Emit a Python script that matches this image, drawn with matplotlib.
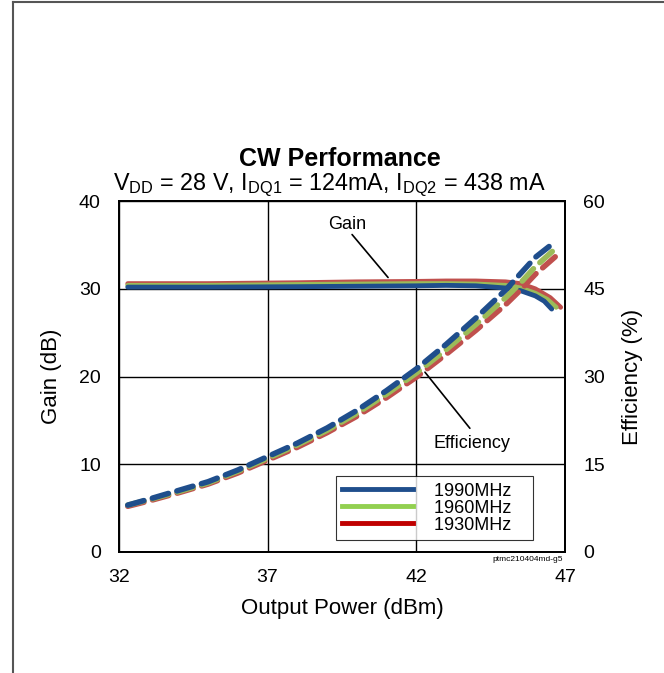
import matplotlib.pyplot as plt
from matplotlib.lines import Line2D

plt.rcParams['font.family'] = ['Liberation Sans', 'DejaVu Sans']

# Gain (dB) vs output power (dBm)
pout_g_1990 = [32.3, 35, 38, 40, 42, 43, 44, 45, 45.5, 46, 46.3, 46.55]
gain_1990 = [30.2, 30.2, 30.25, 30.3, 30.35, 30.4, 30.35, 30.1, 29.8, 29.2, 28.6, 27.7]
pout_g_1960 = [32.3, 35, 38, 40, 42, 43, 44, 45, 45.5, 46, 46.4, 46.7]
gain_1960 = [30.4, 30.4, 30.5, 30.55, 30.6, 30.6, 30.55, 30.4, 30.1, 29.5, 28.8, 27.9]
pout_g_1930 = [32.3, 35, 38, 40, 42, 43, 44, 45, 45.5, 46, 46.5, 46.85]
gain_1930 = [30.6, 30.6, 30.7, 30.8, 30.85, 30.9, 30.9, 30.8, 30.6, 30.0, 29.0, 27.9]

# Efficiency (%) vs output power (dBm)
pout_e_1990 = [32.3, 33, 34, 35, 36, 37, 38, 39, 40, 41, 42, 43, 44, 45, 45.5, 46, 46.55]
eff_1990 = [8, 9, 10.5, 12, 14, 16.3, 18.6, 21.2, 24.2, 27.6, 31.3, 35.5, 40, 44.8, 47.6, 50.4, 52.6]
pout_e_1960 = [32.3, 33, 34, 35, 36, 37, 38, 39, 40, 41, 42, 43, 44, 45, 45.5, 46, 46.7]
eff_1960 = [8, 8.9, 10.3, 11.8, 13.8, 16, 18.3, 20.8, 23.7, 27, 30.6, 34.6, 38.9, 43.5, 46, 48.8, 52]
pout_e_1930 = [32.3, 33, 34, 35, 36, 37, 38, 39, 40, 41, 42, 43, 44, 45, 45.5, 46, 46.85]
eff_1930 = [7.8, 8.7, 10.1, 11.6, 13.5, 15.7, 17.9, 20.4, 23.2, 26.4, 29.9, 33.8, 37.9, 42.3, 44.8, 47.5, 51.3]

labels = ['1990MHz', '1960MHz', '1930MHz']
colors_solid = ['#1f4e8c', '#92d050', '#c00000']
colors_dash = ['#1f4e8c', '#9bbb59', '#c0504d']

fig = plt.figure(figsize=(6.64, 6.73), dpi=100)
ax1 = fig.add_axes([0.179, 0.180, 0.672, 0.521])
ax2 = ax1.twinx()

gains = [(pout_g_1990, gain_1990), (pout_g_1960, gain_1960), (pout_g_1930, gain_1930)]
effs = [(pout_e_1990, eff_1990), (pout_e_1960, eff_1960), (pout_e_1930, eff_1930)]

# draw in reverse so blue ends up on top like the original
for i in [2, 1, 0]:
    x, y = gains[i]
    ax1.plot(x, y, color=colors_dash[i], lw=3.5, solid_capstyle='round', zorder=3)
for i in [2, 1, 0]:
    x, y = effs[i]
    ax2.plot(x, y, color=colors_dash[i], lw=4, ls=(0, (3, 1.6)),
             dash_capstyle='round', zorder=3)

ax1.set_xlim(32, 47)
ax1.set_ylim(0, 40)
ax2.set_ylim(0, 60)
ax1.set_xticks([32, 37, 42, 47])
ax1.set_yticks([0, 10, 20, 30, 40])
ax2.set_yticks([0, 15, 30, 45, 60])
ax1.grid(True, color='black', lw=1)
ax1.set_axisbelow(True)
for ax in (ax1, ax2):
    ax.tick_params(length=0, labelsize=14, pad=13)
    for s in ax.spines.values():
        s.set_linewidth(1.3)
ax1.tick_params(axis='x', pad=12)
ax2.set_zorder(ax1.get_zorder() + 1)
ax2.patch.set_visible(False)

ax1.set_xlabel('Output Power (dBm)', fontsize=16, labelpad=9)
ax1.set_ylabel('Gain (dB)', fontsize=16, labelpad=12)
ax2.set_ylabel('Efficiency (%)', fontsize=16, labelpad=12)

fig.text(0.512, 0.753, 'CW Performance', ha='center', fontsize=18, fontweight='bold')
fig.text(0.496, 0.717,
         r'$\mathregular{V_{DD}}$ = 28 V, $\mathregular{I_{DQ1}}$ = 124mA, '
         r'$\mathregular{I_{DQ2}}$ = 438 mA',
         ha='center', fontsize=16.8)

# annotations
ax1.text(39.67, 37.4, 'Gain', fontsize=13, ha='center', va='center')
ax1.annotate('', xy=(41.05, 31.3), xytext=(39.84, 36.2),
             arrowprops=dict(arrowstyle='-', color='black', lw=1.2,
                             shrinkA=0, shrinkB=0))
ax1.text(43.87, 12.4, 'Efficiency', fontsize=13, ha='center', va='center')
ax1.annotate('', xy=(42.29, 20.5), xytext=(43.8, 14.1),
             arrowprops=dict(arrowstyle='-', color='black', lw=1.2,
                             shrinkA=0, shrinkB=0))

handles = [Line2D([], [], color=c, lw=3.5) for c in colors_solid]
leg = ax1.legend(handles, [s + '   ' for s in labels], loc='lower right',
                 bbox_to_anchor=(0.928, 0.034),
                 borderaxespad=0, fontsize=13, frameon=True, fancybox=False,
                 edgecolor='black', handlelength=3.9, handletextpad=1.2,
                 borderpad=0.35, labelspacing=0.0)
leg.get_frame().set_linewidth(0.8)
leg.set_zorder(10)

fig.text(0.847, 0.169, 'ptmc210404md-g5', ha='right', va='center', fontsize=6)

# page border lines
fig.add_artist(Line2D([0.019, 0.019], [0, 0.997], transform=fig.transFigure,
                      color='#555555', lw=1.5))
fig.add_artist(Line2D([0.019, 1.0], [0.997, 0.997], transform=fig.transFigure,
                      color='#555555', lw=1.5))

fig.savefig('out.png', dpi=100)
